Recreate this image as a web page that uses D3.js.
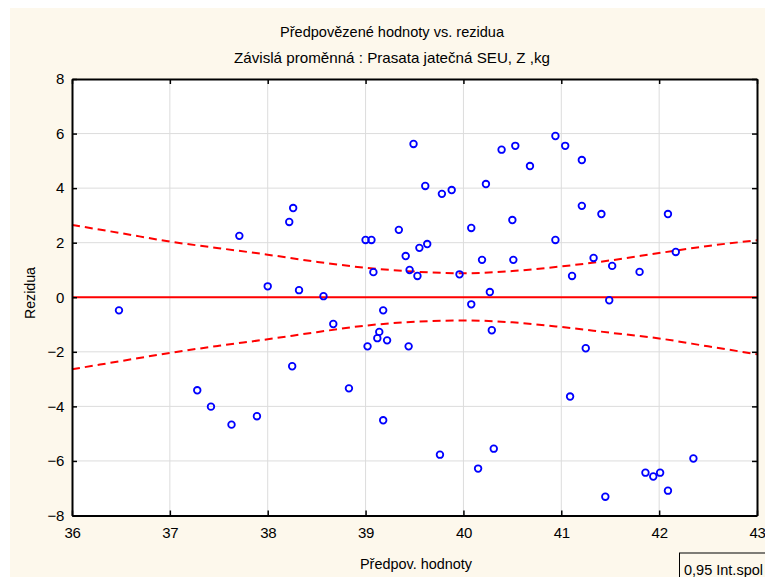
<!DOCTYPE html>
<html>
<head>
<meta charset="utf-8">
<script src="https://cdn.jsdelivr.net/npm/d3@7"></script>
<style>
  body { margin: 0; background: #fff; }
  svg text { font-family: "Liberation Sans", Arial, sans-serif; fill: #000; }
</style>
</head>
<body>
<div class="chart"></div>
<script>
// predicted values and residuals
const predicted = [36.48, 37.28, 37.42, 37.63, 37.71, 37.89, 38.0, 38.22, 38.25, 38.26,
  38.32, 38.57, 38.67, 38.83, 39.0, 39.02, 39.06, 39.08, 39.12, 39.14,
  39.18, 39.18, 39.22, 39.34, 39.41, 39.44, 39.45, 39.49, 39.53, 39.55,
  39.61, 39.63, 39.76, 39.78, 39.88, 39.96, 40.08, 40.08, 40.15, 40.19,
  40.23, 40.27, 40.29, 40.31, 40.39, 40.5, 40.51, 40.53, 40.68, 40.94,
  40.94, 41.04, 41.09, 41.11, 41.21, 41.21, 41.25, 41.33, 41.41, 41.45,
  41.49, 41.52, 41.8, 41.86, 41.94, 42.01, 42.09, 42.09, 42.17, 42.35];
const residuals = [-0.48, -3.41, -4.01, -4.67, 2.25, -4.36, 0.40, 2.76, -2.53, 3.27,
  0.26, 0.04, -0.98, -3.34, 2.10, -1.80, 2.10, 0.92, -1.50, -1.27,
  -0.48, -4.51, -1.58, 2.47, 1.51, -1.80, 1.0, 5.62, 0.78, 1.81,
  4.08, 1.95, -5.77, 3.79, 3.93, 0.84, 2.54, -0.26, -6.28, 1.37,
  4.15, 0.19, -1.21, -5.55, 5.41, 2.83, 1.37, 5.55, 4.81, 5.91,
  2.10, 5.55, -3.64, 0.78, 5.03, 3.35, -1.87, 1.44, 3.05, -7.31,
  -0.11, 1.15, 0.93, -6.43, -6.57, -6.43, 3.05, -7.09, 1.66, -5.91];

// 0.95 confidence band
const bandX = [36, 36.5, 37, 37.5, 38, 38.5, 39, 39.5, 40, 40.5, 41, 41.5, 42, 42.5, 43];
const bandUpper = [2.65, 2.35, 2.04, 1.8, 1.56, 1.3, 1.08, 0.94, 0.88, 0.96, 1.13, 1.35, 1.62, 1.88, 2.09];
const bandLower = [-2.64, -2.34, -2.04, -1.78, -1.54, -1.28, -1.04, -0.9, -0.85, -0.92, -1.09, -1.3, -1.51, -1.8, -2.09];

const xTicks = [36, 37, 38, 39, 40, 41, 42, 43];
const yTicks = [-8, -6, -4, -2, 0, 2, 4, 6, 8];

const title1 = 'Předpovězené hodnoty vs. rezidua';
const title2 = 'Závislá proměnná :  Prasata jatečná SEU, Z ,kg';
const xLabel = 'Předpov. hodnoty';
const yLabel = 'Rezidua';
const legendLabel = '0,95 Int.spol';

const W = 765, H = 577;
const margin = ({top: 79, right: 8, bottom: 62, left: 72});
const width = 757 - margin.left;
const height = 515.5 - margin.top;

const root = d3.select('.chart')
  .append('svg')
  .attr('width', W)
  .attr('height', H);

root.append('rect')
  .attr('x', 10).attr('y', 8)
  .attr('width', W - 10).attr('height', H - 8)
  .attr('fill', '#fdf8ec');

const svg = root.append('g')
  .attr('transform', 'translate(' + margin.left + ',' + margin.top + ')');

const xScale = d3.scaleLinear().domain([36, 43]).range([0, width]);
const yScale = d3.scaleLinear().domain([-8, 8]).range([height, 0]);

svg.append('rect')
  .attr('width', width).attr('height', height)
  .attr('fill', '#fff');

// grid
svg.append('g')
  .selectAll('line')
  .data(xTicks.slice(1, -1))
  .join('line')
  .attr('x1', d => xScale(d)).attr('x2', d => xScale(d))
  .attr('y1', 0).attr('y2', height)
  .attr('stroke', '#dcdcdc').attr('stroke-width', 1);

svg.append('g')
  .selectAll('line')
  .data(yTicks.slice(1, -1))
  .join('line')
  .attr('y1', d => yScale(d)).attr('y2', d => yScale(d))
  .attr('x1', 0).attr('x2', width)
  .attr('stroke', '#dcdcdc').attr('stroke-width', 1);

// zero line
svg.append('line')
  .attr('x1', 0).attr('x2', width)
  .attr('y1', yScale(0)).attr('y2', yScale(0))
  .attr('stroke', '#ff0000').attr('stroke-width', 2);

const band = d3.line()
  .x(d => xScale(d[0]))
  .y(d => yScale(d[1]))
  .curve(d3.curveMonotoneX);

[bandUpper, bandLower].forEach(vals => {
  svg.append('path')
    .datum(bandX.map((x, i) => [x, vals[i]]))
    .attr('d', band)
    .attr('fill', 'none')
    .attr('stroke', '#ff0000')
    .attr('stroke-width', 2)
    .attr('stroke-dasharray', '8,5');
});

svg.append('g')
  .selectAll('circle')
  .data(predicted.map((p, i) => ({p: p, r: residuals[i]})))
  .join('circle')
  .attr('cx', d => xScale(d.p))
  .attr('cy', d => yScale(d.r))
  .attr('r', 3.3)
  .attr('fill', 'none')
  .attr('stroke', '#0000ff')
  .attr('stroke-width', 1.8);

// axes: ticks point inward
const xAxis = d3.axisBottom(xScale).tickValues(xTicks).tickFormat(d3.format('d'))
  .tickSizeInner(-5).tickSizeOuter(0).tickPadding(12);
const yAxis = d3.axisLeft(yScale).tickValues(yTicks).tickFormat(d3.format('d'))
  .tickSizeInner(-5).tickSizeOuter(0).tickPadding(8);

svg.append('g')
  .attr('class', 'axis x-axis')
  .attr('transform', `translate(0, ${height})`)
  .call(xAxis);
svg.append('g')
  .attr('class', 'axis y-axis')
  .call(yAxis);
svg.append('g')
  .call(d3.axisTop(xScale).tickValues(xTicks).tickSizeInner(-5).tickSizeOuter(0).tickFormat(''));
svg.append('g')
  .attr('transform', `translate(${width}, 0)`)
  .call(d3.axisRight(yScale).tickValues(yTicks).tickSizeInner(-5).tickSizeOuter(0).tickFormat(''));

svg.selectAll('.domain').attr('stroke', '#000').attr('stroke-width', 2);
svg.selectAll('.tick line').attr('stroke', '#000').attr('stroke-width', 1.5);
svg.selectAll('.tick text')
  .style('font-family', '"Liberation Sans", Arial, sans-serif')
  .style('font-size', '15px')
  .style('letter-spacing', '-0.3px')
  .attr('fill', '#000');

// titles
root.append('text')
  .attr('x', 392).attr('y', 37)
  .attr('text-anchor', 'middle')
  .style('font-size', '15px')
  .attr('textLength', 224)
  .attr('lengthAdjust', 'spacingAndGlyphs')
  .text(title1);
root.append('text')
  .attr('x', 392).attr('y', 63)
  .attr('text-anchor', 'middle')
  .style('font-size', '15px')
  .attr('textLength', 316)
  .attr('lengthAdjust', 'spacingAndGlyphs')
  .text(title2);

root.append('text')
  .attr('x', 416).attr('y', 569)
  .attr('text-anchor', 'middle')
  .style('font-size', '15px')
  .attr('textLength', 112)
  .attr('lengthAdjust', 'spacingAndGlyphs')
  .text(xLabel);

root.append('text')
  .attr('transform', 'translate(35, 293) rotate(-90)')
  .attr('text-anchor', 'middle')
  .style('font-size', '15px')
  .attr('textLength', 52)
  .attr('lengthAdjust', 'spacingAndGlyphs')
  .text(yLabel);

// legend box
root.append('rect')
  .attr('x', 679.5).attr('y', 553)
  .attr('width', 100).attr('height', 40)
  .attr('fill', 'none')
  .attr('stroke', '#000')
  .attr('stroke-width', 1);
root.append('text')
  .attr('x', 684).attr('y', 575)
  .style('font-size', '15px')
  .attr('textLength', 79)
  .attr('lengthAdjust', 'spacingAndGlyphs')
  .text(legendLabel);
</script>
</body>
</html>
